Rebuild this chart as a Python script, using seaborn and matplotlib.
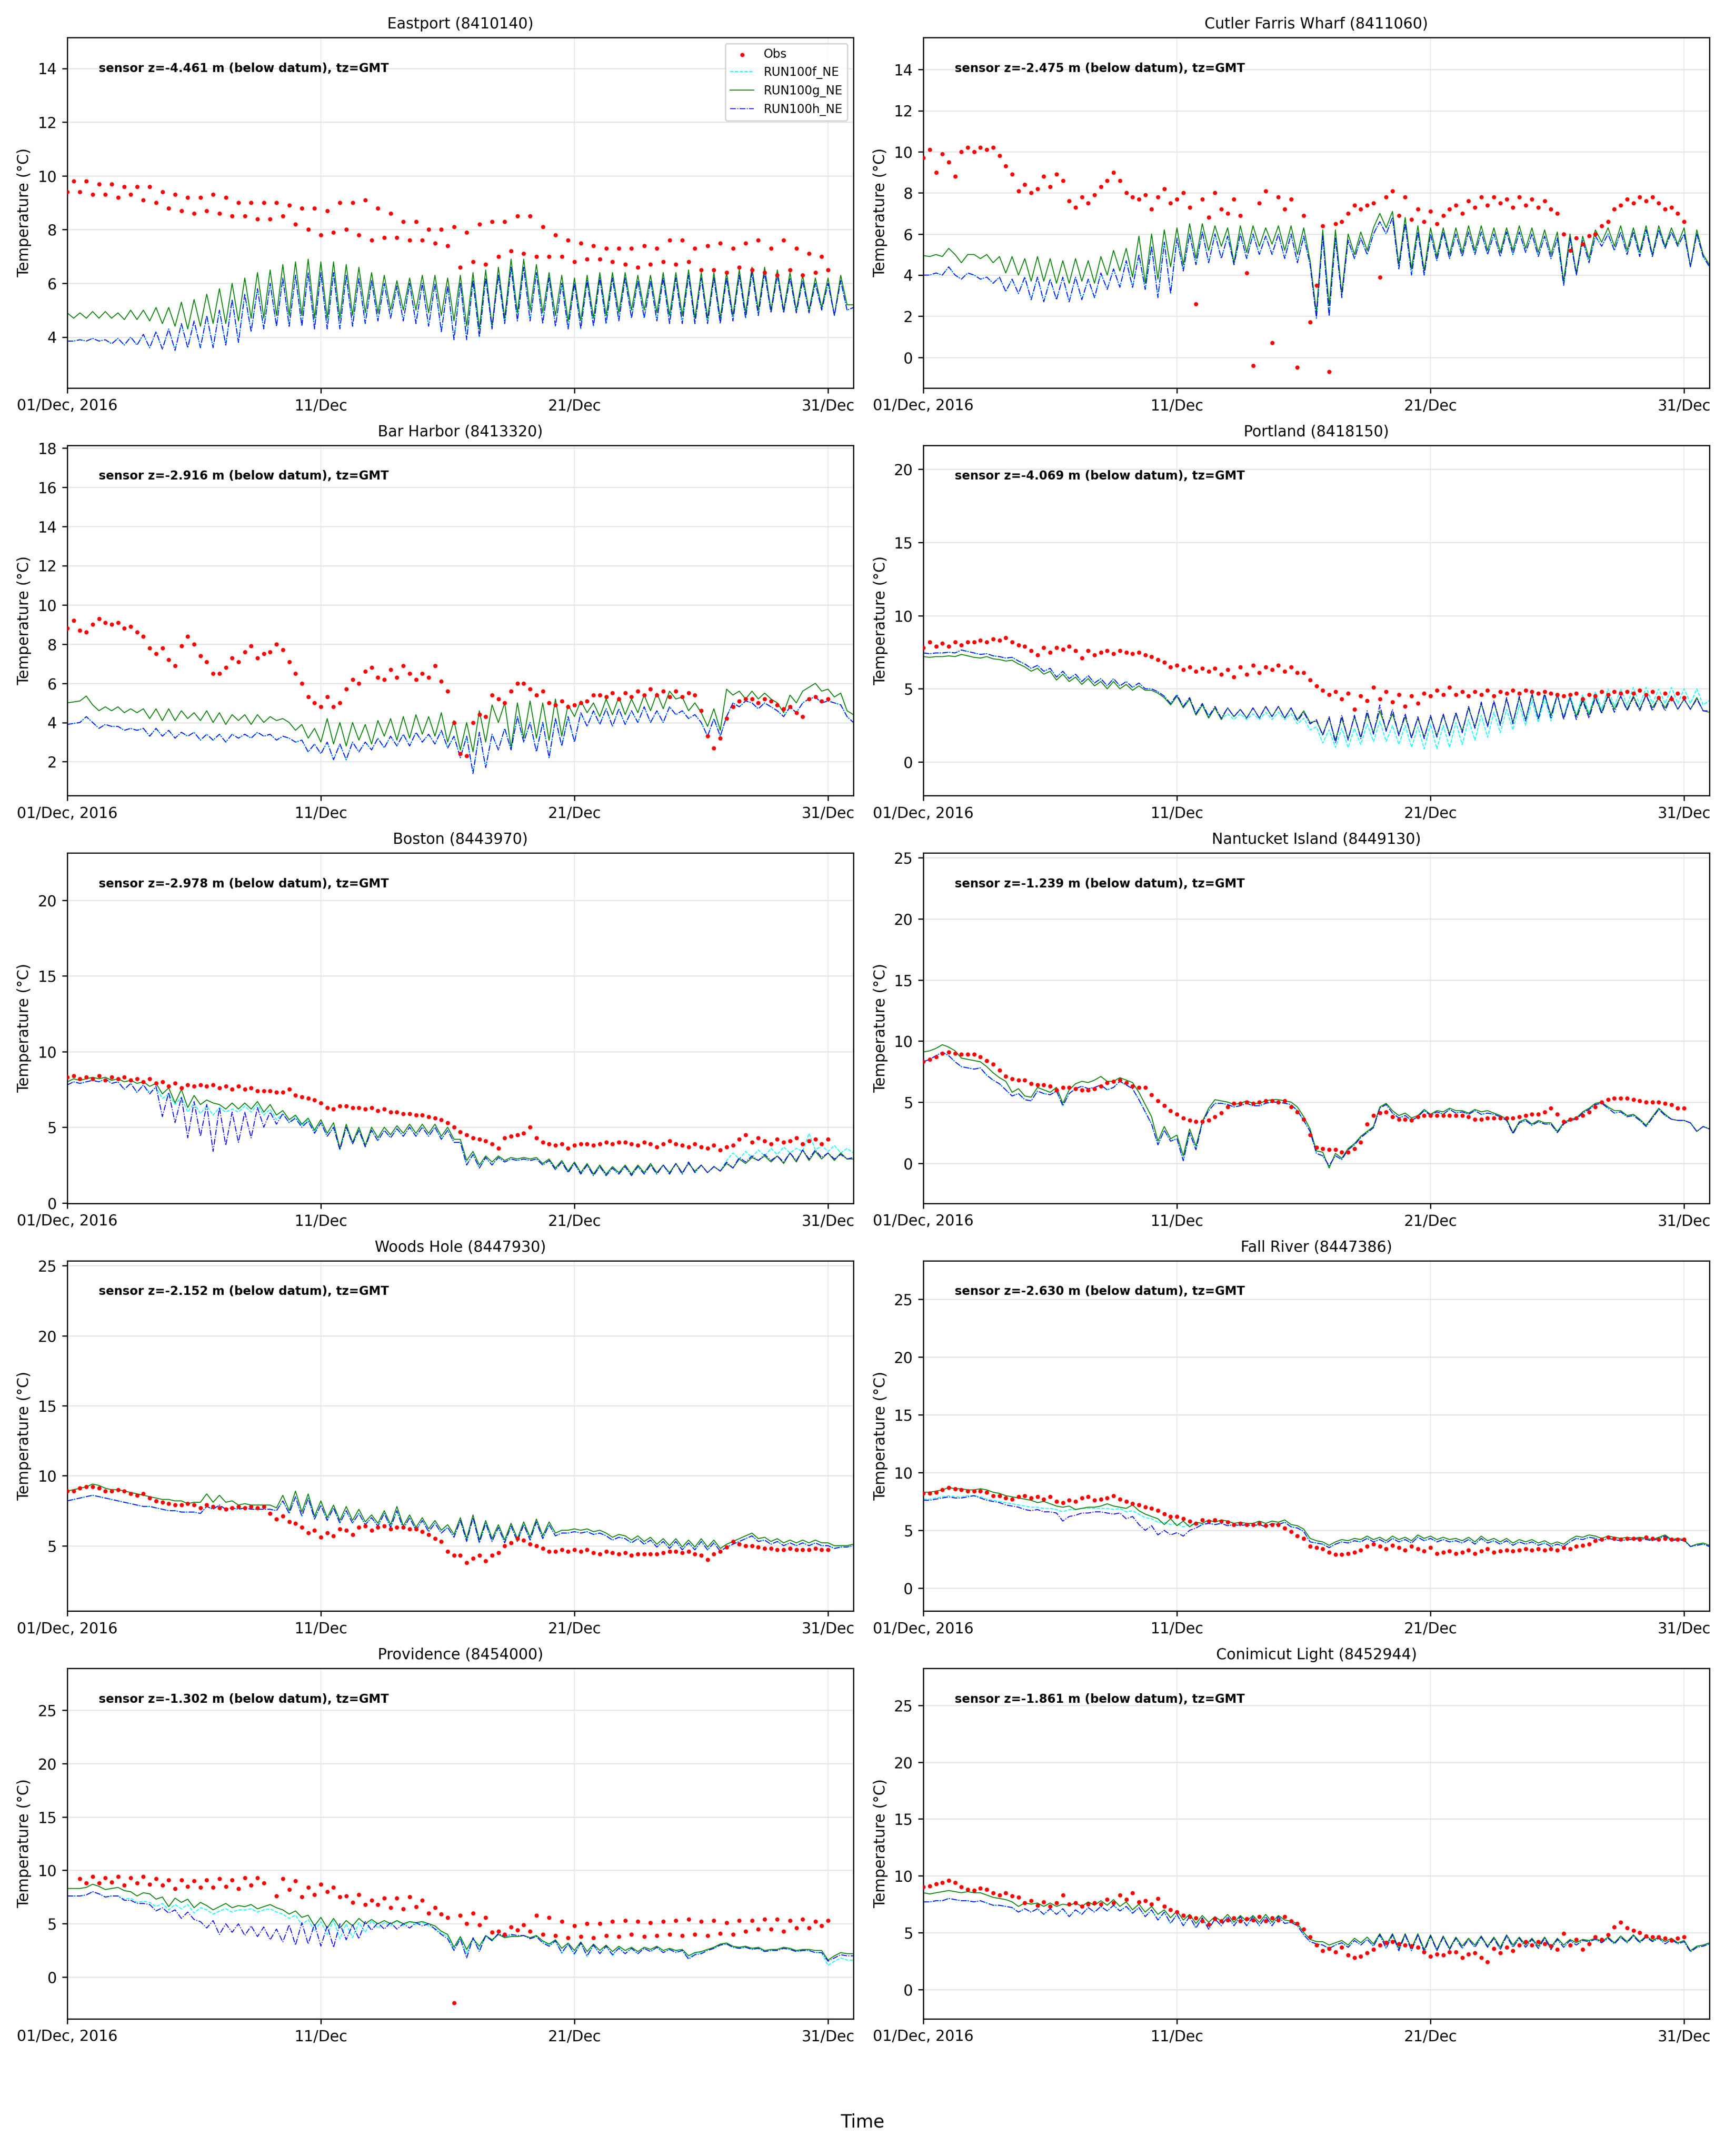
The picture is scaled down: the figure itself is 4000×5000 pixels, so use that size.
import numpy as np
import pandas as pd
import seaborn as sns
import matplotlib.pyplot as plt


def vals(txt):
    return np.array(txt.split(), dtype=float)


# values, 6-hourly (one row = one day: 00, 06, 12, 18 GMT)
# models run 01 Dec 00:00 -> 01 Jan 00:00, obs 01 Dec 00:00 -> 31 Dec 00:00

# ---------------- Eastport ----------------
eastport_obs = vals("""
9.4 9.8 9.4 9.8
9.3 9.7 9.3 9.7
9.2 9.6 9.3 9.6
9.1 9.6 9.0 9.4
8.8 9.3 8.7 9.2
8.6 9.2 8.7 9.3
8.6 9.2 8.5 9.0
8.5 9.0 8.4 9.0
8.4 9.0 8.5 8.9
8.2 8.8 8.0 8.8
7.8 8.7 7.9 9.0
8.0 9.0 7.8 9.1
7.6 8.8 7.7 8.6
7.7 8.3 7.6 8.3
7.6 8.0 7.5 8.0
7.4 8.1 6.6 7.9
6.8 8.2 6.7 8.3
7.0 8.3 7.2 8.5
7.1 8.5 7.0 8.1
7.0 7.8 7.0 7.6
6.8 7.5 6.9 7.4
6.9 7.3 6.8 7.3
6.7 7.3 6.6 7.4
6.7 7.3 6.8 7.6
6.7 7.6 6.8 7.3
6.5 7.4 6.5 7.5
6.4 7.3 6.6 7.5
6.5 7.6 6.4 7.3
6.3 7.6 6.5 7.3
6.3 7.1 6.4 7.0
6.5
""")
eastport_g = vals("""
4.9 4.7 4.9 4.7
4.95 4.7 4.95 4.7
4.9 4.65 5.0 4.65
5.0 4.6 5.1 4.5
5.1 4.4 5.3 4.3
5.4 4.4 5.6 4.5
5.8 4.5 6.0 4.6
6.2 4.7 6.4 4.7
6.5 4.8 6.7 4.8
6.8 4.8 6.9 4.7
6.8 4.7 6.8 4.7
6.7 4.8 6.6 4.9
6.4 4.9 6.3 5.0
6.1 5.0 6.2 5.0
6.3 4.9 6.3 4.8
6.2 4.6 6.3 4.4
6.4 4.3 6.5 4.4
6.6 4.7 6.9 4.9
6.9 5.0 6.7 4.9
6.4 4.8 6.3 4.6
6.2 4.6 6.3 4.7
6.4 4.8 6.4 4.9
6.4 5.0 6.3 5.0
6.3 4.9 6.4 4.8
6.4 4.8 6.5 4.7
6.4 4.7 6.4 4.7
6.4 4.8 6.5 4.9
6.6 5.0 6.6 5.0
6.5 5.0 6.4 5.0
6.3 5.0 6.2 5.1
6.2 4.8 6.3 5.2
5.2
""")
eastport_h = vals("""
3.85 3.85 3.9 3.85
3.95 3.85 3.9 3.75
3.95 3.7 4.0 3.7
4.1 3.6 4.2 3.55
4.3 3.5 4.5 3.6
4.6 3.6 4.8 3.6
5.0 3.7 5.4 3.8
5.6 4.2 5.8 4.3
6.0 4.4 6.2 4.4
6.3 4.4 6.4 4.3
6.4 4.3 6.4 4.3
6.3 4.4 6.2 4.5
6.1 4.6 6.0 4.7
5.9 4.6 6.0 4.5
6.0 4.4 6.0 4.2
5.9 3.9 6.0 3.9
6.1 4.0 6.2 4.3
6.3 4.5 6.6 4.6
6.6 4.6 6.4 4.5
6.2 4.4 6.0 4.3
6.0 4.3 6.1 4.4
6.2 4.5 6.2 4.6
6.2 4.7 6.1 4.7
6.1 4.6 6.2 4.5
6.2 4.5 6.3 4.5
6.2 4.5 6.2 4.5
6.2 4.6 6.3 4.7
6.4 4.8 6.4 4.9
6.3 4.9 6.2 4.9
6.1 4.9 6.0 5.0
6.0 4.8 6.1 5.0
5.1
""")
eastport_f = eastport_h  # f and h overlap within a line width here

# ---------------- Cutler Farris Wharf ----------------
cutler_obs = vals("""
9.7 10.1 9.0 9.9
9.5 8.8 10.0 10.2
10.0 10.2 10.1 10.2
9.8 9.3 8.9 8.1
8.4 8.0 8.2 8.8
8.3 8.9 8.6 7.6
7.3 7.8 7.5 7.9
8.3 8.6 9.0 8.6
8.0 7.8 7.7 7.9
7.2 7.8 8.2 7.5
7.7 8.0 7.3 2.6
7.7 6.8 8.0 7.2
7.0 7.7 6.9 4.1
-0.4 7.5 8.1 0.7
7.8 7.2 7.7 -0.5
6.9 1.7 3.5 6.4
-0.7 6.5 6.6 7.0
7.4 7.2 7.4 7.5
3.9 7.8 8.1 6.9
7.8 6.7 7.2 6.6
7.1 6.5 6.9 7.2
7.4 7.0 7.6 7.3
7.8 7.4 7.8 7.5
7.7 7.3 7.8 7.4
7.7 7.3 7.6 7.2
7.0 6.0 5.2 5.8
5.5 5.9 6.0 6.4
6.6 7.2 7.4 7.7
7.5 7.8 7.6 7.8
7.5 7.2 7.3 7.0
6.6
""")
cutler_g = vals("""
4.95 4.9 5.0 4.9
5.3 5.0 4.6 5.0
5.0 4.8 5.0 4.6
4.9 4.1 4.9 4.0
4.8 3.7 4.9 3.7
4.8 3.6 4.7 3.6
4.8 3.7 4.7 3.6
4.9 4.0 5.2 4.2
5.3 3.9 5.9 3.6
6.0 3.8 6.2 4.4
6.3 4.5 6.5 4.8
6.5 5.2 6.4 5.4
6.3 4.6 6.4 5.1
6.4 5.4 6.3 5.5
6.4 5.2 6.4 5.0
6.3 4.7 2.2 6.2
2.5 6.2 3.1 6.0
5.0 6.1 5.2 6.3
7.0 6.3 7.1 4.5
6.8 4.3 6.4 4.2
6.3 4.9 6.3 5.0
6.3 5.1 6.4 5.2
6.4 5.2 6.3 5.1
6.3 5.2 6.4 5.3
6.3 5.1 6.2 5.0
6.1 3.7 6.0 4.1
5.9 4.8 6.2 5.6
6.3 5.4 6.4 5.2
6.3 5.1 6.4 5.0
6.4 5.4 6.3 5.5
6.3 4.4 6.2 5.0
4.5
""")
cutler_h = vals("""
4.0 4.0 4.1 4.0
4.4 4.0 3.8 4.1
4.0 3.8 3.9 3.6
3.9 3.2 3.8 3.1
3.9 2.8 3.9 2.7
3.8 2.8 3.9 2.7
3.9 2.8 3.8 2.9
4.1 3.3 4.3 3.4
4.7 3.4 5.0 3.3
5.4 2.9 5.6 3.1
5.8 4.2 6.0 4.5
6.1 4.6 6.0 4.8
5.9 4.5 6.0 4.8
6.0 5.0 5.9 5.0
6.0 4.8 6.0 4.6
5.9 4.5 1.9 5.9
2.0 5.8 2.9 5.7
4.8 5.8 5.0 6.0
6.6 6.0 6.8 4.3
6.5 4.0 6.1 4.0
6.0 4.7 6.1 4.8
6.0 4.9 6.1 5.0
6.1 5.0 6.0 4.9
6.1 5.0 6.1 5.1
6.0 4.9 5.9 4.8
5.8 3.5 5.8 4.0
5.7 4.6 5.9 5.4
6.0 5.2 6.1 5.0
6.1 4.9 6.2 4.9
6.2 5.3 6.1 5.4
6.0 4.4 6.0 4.9
4.4
""")
cutler_f = cutler_h

# ---------------- Bar Harbor ----------------
barharbor_obs = vals("""
8.8 9.2 8.7 8.6
9.0 9.3 9.1 9.0
9.1 8.8 8.9 8.6
8.4 7.8 7.5 7.8
7.2 6.9 7.9 8.4
8.0 7.4 7.1 6.5
6.5 6.8 7.3 7.1
7.6 7.9 7.3 7.5
7.6 8.0 7.7 7.1
6.5 6.0 5.3 5.0
4.8 5.3 4.8 5.0
5.7 6.2 6.0 6.6
6.8 6.3 6.2 6.7
6.3 6.9 6.5 6.2
6.5 6.3 6.9 6.1
5.6 4.0 2.4 2.3
4.0 4.4 4.3 5.4
5.2 5.0 5.6 6.0
6.0 5.7 5.4 5.6
5.0 4.9 5.1 4.8
4.9 5.0 5.1 5.4
5.4 5.3 5.5 5.2
5.5 5.3 5.6 5.4
5.7 5.4 5.6 5.3
5.6 5.3 5.5 5.4
4.6 3.3 2.7 3.2
4.2 4.8 5.1 5.2
5.2 5.0 5.2 5.1
4.9 4.7 4.8 4.5
4.3 5.2 5.3 5.1
5.2
""")
barharbor_g = vals("""
5.0 5.05 5.1 5.35
4.9 4.6 4.8 4.6
4.8 4.5 4.7 4.5
4.7 4.2 4.7 4.1
4.7 4.1 4.6 4.2
4.5 4.1 4.6 4.0
4.5 3.9 4.4 4.1
4.4 3.9 4.4 4.0
4.3 4.1 4.2 4.0
3.6 3.9 3.2 3.7
3.0 4.2 2.9 4.0
2.8 4.0 3.1 3.9
2.9 4.1 3.3 4.2
3.1 4.3 3.2 4.4
3.4 4.3 3.3 4.5
3.0 4.1 2.6 4.0
2.5 4.6 3.0 4.9
4.0 5.0 2.7 5.0
3.2 5.1 3.2 5.0
3.1 5.2 3.3 4.9
4.3 5.1 4.5 5.0
4.3 5.2 4.4 5.3
4.4 5.2 4.5 5.4
4.6 5.5 4.7 5.6
5.2 5.3 4.6 5.0
4.5 3.8 4.7 3.6
5.7 5.4 5.6 5.2
5.6 5.2 5.5 5.2
5.0 4.5 5.4 5.0
5.6 5.8 6.0 5.6
5.7 5.3 5.5 4.6
4.4
""")
barharbor_h = vals("""
3.9 3.95 4.0 4.3
4.0 3.7 3.9 3.8
3.8 3.6 3.7 3.6
3.7 3.3 3.7 3.3
3.6 3.2 3.5 3.3
3.5 3.1 3.4 3.1
3.4 3.0 3.4 3.2
3.4 3.2 3.5 3.3
3.4 3.1 3.3 3.2
3.0 3.1 2.5 2.9
2.4 3.0 2.1 2.9
2.1 3.0 2.5 3.0
2.6 3.2 2.7 3.3
2.8 3.4 2.8 3.5
3.0 3.4 2.9 3.6
2.7 3.3 2.2 3.3
1.4 3.5 1.7 3.4
2.6 3.7 2.6 4.3
3.0 4.0 2.5 4.0
2.2 4.2 2.8 4.3
3.0 4.5 3.8 4.6
3.9 4.7 3.8 4.7
3.9 4.6 4.0 4.8
4.0 4.6 4.0 4.8
4.4 4.6 4.2 4.4
4.0 3.3 4.2 3.3
4.3 5.0 4.8 5.1
5.0 4.7 5.0 4.8
4.6 4.3 4.8 4.5
5.0 5.2 5.3 5.0
5.1 5.0 4.9 4.3
4.0
""")
barharbor_f = barharbor_h

# ---------------- Portland ----------------
portland_obs = vals("""
7.8 8.2 7.9 8.1
7.9 8.2 8.0 8.2
8.2 8.3 8.2 8.4
8.3 8.5 8.2 8.0
7.9 7.6 7.3 7.8
7.5 7.8 7.7 7.9
7.6 7.1 7.6 7.3
7.5 7.6 7.4 7.6
7.5 7.4 7.5 7.3
7.2 7.0 6.8 6.5
6.6 6.3 6.5 6.2
6.4 6.2 6.4 6.0
6.3 5.8 6.5 6.0
6.6 6.1 6.5 6.3
6.6 6.2 6.5 6.1
6.1 5.6 5.2 4.9
4.6 4.8 4.3 4.7
3.6 4.5 4.2 5.1
4.3 4.8 4.1 4.6
3.8 4.5 4.0 4.7
4.5 4.9 4.6 5.1
4.6 4.8 4.5 4.8
4.6 4.9 4.5 4.8
4.7 4.9 4.7 4.9
4.8 4.7 4.8 4.7
4.6 4.5 4.6 4.7
4.3 4.6 4.5 4.8
4.6 4.8 4.7 4.8
4.7 4.9 4.6 4.8
4.4 4.7 4.3 4.7
4.4
""")
portland_f = vals("""
7.45 7.4 7.45 7.45
7.5 7.45 7.65 7.55
7.45 7.35 7.4 7.25
7.2 7.1 7.15 6.9
6.7 6.4 6.6 6.2
6.4 5.8 6.2 5.7
6.0 5.5 5.9 5.4
5.7 5.2 5.7 5.2
5.5 5.1 5.4 5.0
5.0 4.8 4.5 4.0
4.6 3.8 4.4 3.3
4.0 3.2 3.7 2.9
3.3 2.9 3.3 2.9
3.3 2.9 3.4 2.9
3.4 2.9 3.3 2.6
3.0 2.2 2.4 1.3
2.2 1.0 2.3 1.0
2.3 1.2 2.6 1.4
2.8 1.4 2.5 1.2
2.5 1.0 2.4 0.9
2.6 0.9 2.5 1.0
2.7 1.2 2.9 1.5
3.2 1.7 3.4 2.0
3.6 2.2 3.9 2.5
4.2 2.7 4.4 2.8
4.6 3.1 4.6 3.2
4.6 3.3 4.8 3.6
5.0 3.8 5.0 3.9
5.1 3.9 5.1 4.0
5.0 4.0 5.1 4.0
5.0 4.0 5.0 3.9
4.2
""")
portland_g = vals("""
7.2 7.15 7.2 7.2
7.25 7.2 7.35 7.25
7.15 7.1 7.2 7.05
7.0 6.9 6.95 6.7
6.5 6.2 6.4 6.0
6.2 5.6 6.0 5.5
5.8 5.3 5.7 5.2
5.5 5.0 5.5 5.0
5.3 4.9 5.2 4.9
4.9 4.7 4.4 3.9
4.5 3.7 4.3 3.2
3.9 3.0 3.7 2.9
3.7 3.1 3.6 3.0
3.7 3.0 3.8 3.1
3.8 3.0 3.7 2.9
3.5 2.7 2.8 1.9
3.0 1.5 3.0 1.6
3.1 1.7 3.3 2.0
3.5 2.2 3.3 1.9
3.1 1.7 3.0 1.7
3.1 1.8 3.2 1.9
3.3 2.1 3.7 2.4
4.0 2.5 4.1 2.6
4.3 2.7 4.4 2.9
4.6 3.0 4.6 3.2
4.6 3.0 4.4 3.1
4.3 3.2 4.5 3.4
4.6 3.6 4.5 3.6
4.5 3.6 4.6 3.7
4.4 3.7 4.5 3.6
4.3 3.6 4.4 3.5
3.4
""")
portland_h = vals("""
7.45 7.4 7.45 7.45
7.5 7.45 7.65 7.55
7.45 7.35 7.4 7.25
7.2 7.1 7.15 6.9
6.7 6.4 6.6 6.2
6.4 5.8 6.2 5.7
6.0 5.5 5.9 5.4
5.7 5.2 5.7 5.2
5.5 5.1 5.4 5.0
5.0 4.8 4.5 4.0
4.6 3.8 4.4 3.3
4.0 3.1 3.8 3.0
3.7 3.1 3.6 3.0
3.7 3.0 3.8 3.1
3.8 3.0 3.7 2.8
3.4 2.6 2.9 1.8
3.1 1.3 3.2 1.5
3.2 1.6 3.5 1.9
3.9 2.1 3.6 1.8
3.3 1.6 3.1 1.6
3.2 1.7 3.3 1.8
3.4 2.0 3.8 2.3
4.1 2.4 4.2 2.5
4.4 2.6 4.5 2.8
4.7 2.9 4.7 3.0
4.6 2.9 4.4 2.9
4.2 3.0 4.4 3.3
4.5 3.4 4.5 3.5
4.4 3.5 4.6 3.5
4.4 3.5 4.5 3.6
4.3 3.6 4.3 3.5
3.5
""")

# ---------------- Boston ----------------
boston_obs = vals("""
8.3 8.4 8.2 8.3
8.2 8.4 8.1 8.3
8.2 8.3 8.1 8.2
8.0 8.2 7.9 8.0
7.7 7.9 7.6 7.8
7.7 7.8 7.7 7.8
7.6 7.7 7.5 7.7
7.5 7.6 7.4 7.4
7.4 7.3 7.3 7.5
7.1 7.0 6.9 6.8
6.6 6.3 6.2 6.4
6.4 6.3 6.3 6.2
6.3 6.1 6.2 6.0
6.0 5.9 5.9 5.8
5.8 5.7 5.6 5.5
5.3 5.0 4.7 4.5
4.3 4.2 4.1 3.9
3.6 4.3 4.4 4.5
4.6 5.0 4.3 4.0
3.9 3.8 3.9 3.6
3.8 3.9 3.9 3.8
3.9 4.0 3.9 4.0
4.0 3.9 3.8 4.0
3.9 3.7 3.9 4.1
3.9 3.8 3.7 3.9
3.7 3.6 3.8 3.5
3.7 3.8 4.2 4.5
4.0 4.3 4.1 3.9
4.2 4.0 4.1 4.3
3.9 4.1 4.2 3.9
4.2
""")
boston_f = vals("""
7.8 8.0 7.9 8.0
8.1 8.0 8.2 7.9
8.0 7.5 7.9 7.3
7.8 7.3 7.6 6.9
7.2 6.5 7.0 6.0
6.6 5.9 6.4 5.8
6.3 6.0 6.2 6.0
6.4 6.0 6.5 5.8
6.2 5.5 5.9 5.3
5.7 5.1 5.5 4.7
5.3 4.4 5.0 3.5
5.0 3.9 4.8 3.7
4.8 4.1 4.8 4.3
4.9 4.4 5.0 4.4
5.0 4.4 5.0 4.2
4.8 4.0 4.0 2.5
3.2 2.3 3.0 2.5
3.0 2.7 2.9 2.8
2.9 2.8 2.9 2.5
2.8 2.2 2.7 2.0
2.6 1.9 2.5 1.8
2.4 1.8 2.3 1.9
2.4 1.8 2.4 1.9
2.5 1.9 2.5 1.9
2.6 1.9 2.7 2.0
2.5 2.0 2.4 2.1
2.8 3.3 2.9 3.4
3.0 3.5 3.1 3.6
3.2 3.7 3.3 3.6
3.4 4.6 3.5 3.8
3.4 3.8 3.3 3.6
3.3
""")
boston_g = vals("""
8.0 8.2 8.1 8.2
8.3 8.2 8.3 8.1
8.2 8.0 8.1 7.9
8.0 7.7 7.9 7.2
7.6 6.6 7.5 6.3
7.1 6.5 6.8 6.6
6.5 6.2 6.6 6.2
6.6 6.2 6.7 6.0
6.5 5.8 6.1 5.5
5.8 5.2 5.6 4.8
5.5 4.6 5.3 3.6
5.2 4.0 5.0 3.8
5.0 4.3 5.0 4.5
5.1 4.6 5.2 4.6
5.2 4.6 5.2 4.4
5.0 4.2 4.2 2.8
3.4 2.5 3.1 2.7
3.1 2.8 3.0 2.9
3.0 2.9 3.0 2.6
2.9 2.3 2.8 2.1
2.7 2.0 2.6 1.9
2.5 1.9 2.4 2.0
2.5 1.9 2.5 2.0
2.6 2.0 2.5 2.0
2.6 2.0 2.6 2.1
2.5 2.0 2.4 2.1
2.6 2.3 2.9 2.6
3.0 2.8 3.1 2.7
3.1 2.6 3.3 2.7
3.5 2.8 3.4 2.9
3.3 2.8 3.3 2.9
2.9
""")
boston_h = vals("""
7.8 8.0 7.9 8.0
8.1 8.0 8.2 7.9
8.0 7.5 7.9 7.3
7.8 7.2 7.7 5.7
7.3 5.3 7.0 4.3
6.7 4.4 6.5 3.4
6.3 3.8 6.0 4.0
6.0 4.3 6.3 5.0
6.0 5.2 5.9 5.3
5.6 5.0 5.4 4.6
5.3 4.4 5.0 3.5
5.0 3.9 4.8 3.7
4.8 4.1 4.8 4.3
4.9 4.4 5.0 4.4
5.0 4.4 5.0 4.2
4.8 4.0 4.0 2.5
3.2 2.3 3.0 2.5
3.0 2.7 2.9 2.8
2.9 2.8 2.9 2.5
2.8 2.2 2.7 2.0
2.6 1.9 2.5 1.8
2.4 1.8 2.3 1.9
2.4 1.8 2.4 1.9
2.5 1.9 2.5 1.9
2.6 1.9 2.7 2.0
2.5 2.0 2.4 2.1
2.7 2.3 3.0 2.7
3.1 2.8 3.2 2.8
3.1 2.7 3.3 2.8
3.5 2.9 3.5 3.0
3.3 2.9 3.2 2.9
3.0
""")

# ---------------- Nantucket Island ----------------
nantucket_obs = vals("""
8.3 8.5 8.7 9.0
9.1 9.0 8.9 8.9
8.9 8.7 8.4 8.1
7.6 7.1 6.9 6.8
6.8 6.5 6.4 6.4
6.3 6.0 6.2 6.2
6.1 6.0 6.0 6.1
6.3 6.6 6.7 6.8
6.6 6.3 6.2 6.2
5.6 5.1 4.7 4.3
4.0 3.7 3.5 3.4
3.4 3.5 3.8 4.1
4.6 4.9 4.9 5.0
4.9 5.0 5.1 5.1
5.0 5.1 4.6 4.2
3.6 2.3 1.3 1.2
1.1 1.1 0.9 0.9
1.2 1.7 3.2 3.9
4.1 4.2 3.8 3.6
3.6 3.5 3.8 3.9
3.9 3.9 3.9 3.9
3.9 3.9 3.8 3.6
3.6 3.7 3.7 3.7
3.7 3.7 3.8 3.9
4.0 4.0 4.2 4.5
4.0 3.4 3.6 3.7
3.9 4.2 4.6 5.0
5.2 5.3 5.3 5.3
5.2 5.1 5.0 5.0
5.0 4.9 4.8 4.5
4.5
""")
nantucket_g = vals("""
9.1 9.2 9.4 9.7
9.5 9.2 8.6 8.5
8.4 8.3 7.9 7.4
7.0 6.7 5.8 6.1
5.5 5.4 6.2 6.0
5.8 6.2 4.9 6.0
6.5 6.7 6.6 6.8
7.1 6.7 6.7 7.0
6.8 6.6 5.8 4.8
3.8 1.8 3.0 2.0
2.3 0.6 2.8 1.4
3.4 4.5 5.2 5.1
5.0 4.8 4.9 5.1
4.9 4.9 5.1 5.2
5.2 5.1 5.0 4.6
3.8 2.8 1.0 0.9
-0.4 0.8 0.4 1.2
1.6 2.2 2.6 3.0
4.6 4.9 4.3 3.9
4.1 3.7 3.9 4.4
4.0 4.3 4.2 4.5
4.3 4.3 4.1 4.4
4.2 4.3 4.1 3.9
3.6 2.5 3.4 3.6
3.2 3.5 3.3 3.3
2.6 3.3 3.6 3.7
4.2 4.5 4.9 5.0
4.6 4.3 4.3 3.9
4.0 3.6 3.1 3.8
4.5 4.0 3.6 3.5
3.5 3.3 2.6 3.0
2.8
""")
nantucket_h = vals("""
8.3 8.5 8.8 9.1
8.8 8.3 7.9 7.8
7.7 7.8 7.2 6.8
6.5 6.0 5.5 5.7
5.2 5.1 5.9 5.7
5.6 5.9 4.7 5.7
6.1 6.3 6.1 6.2
6.4 6.0 6.2 6.7
6.4 6.1 5.2 4.2
3.2 1.5 2.7 1.8
2.0 0.2 2.5 1.1
3.3 4.3 4.9 4.9
4.8 4.6 4.7 4.9
4.7 4.7 4.9 5.0
5.0 4.9 4.8 4.3
3.5 2.6 0.8 0.6
-0.2 0.6 0.3 1.1
1.5 2.1 2.5 2.9
4.5 4.8 4.1 3.7
3.9 3.5 3.8 4.3
3.9 4.2 4.0 4.4
4.1 4.2 4.0 4.3
4.0 4.1 4.0 3.8
3.5 2.4 3.3 3.5
3.1 3.4 3.2 3.2
2.5 3.2 3.5 3.6
4.1 4.4 4.8 4.9
4.5 4.1 4.2 3.8
3.9 3.5 3.0 3.7
4.4 3.9 3.6 3.5
3.5 3.3 2.6 3.0
2.8
""")
nantucket_f = nantucket_h

# ---------------- Woods Hole ----------------
woodshole_obs = vals("""
8.9 8.9 9.1 9.2
9.2 9.1 8.9 8.9
9.0 8.9 8.7 8.6
8.7 8.4 8.2 8.1
8.0 7.9 7.9 8.0
7.9 7.7 7.9 7.8
7.7 7.6 7.7 7.8
7.7 7.8 7.7 7.8
7.3 6.9 7.1 6.7
6.6 6.3 5.9 6.1
5.6 5.9 5.7 6.2
6.1 5.8 6.3 6.4
6.1 6.3 6.4 6.2
6.3 6.3 6.2 6.2
6.0 5.8 5.5 5.3
4.6 4.3 4.3 3.8
4.1 4.3 3.9 4.3
4.5 5.0 5.2 5.5
5.4 5.1 5.0 4.8
4.6 4.6 4.7 4.6
4.7 4.6 4.7 4.5
4.4 4.6 4.5 4.4
4.5 4.3 4.4 4.4
4.4 4.4 4.5 4.6
4.6 4.5 4.6 4.4
4.3 4.0 4.4 4.6
4.9 5.3 5.1 5.0
5.0 4.9 4.8 4.8
4.7 4.7 4.8 4.7
4.7 4.7 4.8 4.7
4.7
""")
woodshole_g = vals("""
8.9 9.0 9.1 9.2
9.4 9.3 9.1 9.0
9.0 8.9 8.8 8.7
8.6 8.5 8.4 8.3
8.3 8.2 8.2 8.0
8.1 8.1 8.7 8.1
8.6 8.1 8.2 7.9
8.0 7.9 7.9 7.9
7.9 7.7 8.6 7.5
8.9 7.4 8.7 7.1
8.2 7.0 7.9 6.8
7.8 6.8 7.6 6.7
7.2 6.6 7.5 6.5
7.8 6.4 7.2 6.3
7.0 6.2 6.8 6.1
6.5 5.8 7.0 5.5
7.2 5.4 6.8 5.5
6.5 5.4 6.6 5.5
6.7 5.6 6.9 5.7
6.7 5.9 6.1 6.1
6.2 6.1 6.2 6.0
6.1 5.9 5.6 5.8
5.7 5.4 5.7 5.3
5.6 5.1 5.5 5.0
5.5 4.9 5.4 4.9
5.5 4.9 5.4 4.8
5.1 5.3 5.5 5.7
5.9 5.5 5.6 5.3
5.5 5.2 5.4 5.2
5.4 5.2 5.4 5.2
5.2 5.0 5.0 5.0
5.1
""")
woodshole_h = vals("""
8.2 8.3 8.4 8.5
8.6 8.5 8.4 8.3
8.2 8.1 8.0 7.9
7.8 7.8 7.7 7.6
7.5 7.5 7.4 7.4
7.4 7.3 7.8 7.6
7.9 7.6 7.7 7.6
7.7 7.6 7.6 7.6
7.6 7.5 8.2 7.3
8.5 7.1 8.4 6.9
7.9 6.8 7.7 6.6
7.5 6.6 7.3 6.5
7.0 6.4 7.3 6.3
7.5 6.2 7.0 6.1
6.8 6.0 6.6 5.9
6.3 5.6 6.8 5.3
7.0 5.2 6.6 5.3
6.3 5.2 6.4 5.3
6.5 5.4 6.7 5.5
6.5 5.7 5.9 5.9
6.0 5.9 6.0 5.8
5.9 5.7 5.4 5.6
5.5 5.2 5.5 5.1
5.4 4.9 5.3 4.8
5.3 4.7 5.2 4.7
5.3 4.7 5.2 4.6
4.9 5.1 5.3 5.5
5.7 5.3 5.4 5.1
5.3 5.0 5.2 5.0
5.2 5.0 5.2 5.0
5.0 4.8 4.9 4.9
5.0
""")
woodshole_f = woodshole_h

# ---------------- Fall River ----------------
fallriver_obs = vals("""
8.2 8.2 8.3 8.5
8.7 8.6 8.5 8.4
8.4 8.4 8.3 8.0
8.0 7.8 7.7 7.9
8.0 7.8 7.9 7.7
7.9 7.5 7.4 7.6
7.5 7.8 7.9 7.6
7.7 7.8 8.0 7.7
7.5 7.3 7.2 7.0
6.9 6.7 6.4 6.2
6.2 6.0 5.8 5.6
5.9 5.8 5.9 5.8
5.7 5.5 5.6 5.5
5.5 5.6 5.4 5.5
5.5 5.2 4.9 4.5
4.3 3.6 3.5 3.4
3.1 2.9 2.9 3.0
3.1 3.3 3.6 3.8
3.6 3.4 3.7 3.5
3.3 3.6 3.4 3.2
3.5 3.0 3.1 3.2
3.0 3.1 3.3 3.0
3.2 3.4 3.1 3.2
3.3 3.2 3.3 3.4
3.3 3.4 3.3 3.4
3.3 3.5 3.4 3.6
3.7 3.8 4.1 4.2
4.4 4.3 4.2 4.3
4.3 4.2 4.4 4.3
4.2 4.3 4.2 4.2
4.2
""")
fallriver_f = vals("""
7.7 7.7 7.8 7.9
8.0 7.9 7.9 8.0
8.0 7.9 7.7 7.6
7.5 7.4 7.3 7.2
7.1 7.0 7.0 6.9
6.9 6.8 6.6 6.8
6.8 6.9 6.9 6.9
6.9 6.9 6.8 6.9
6.6 6.7 6.4 6.1
6.0 5.7 5.7 5.5
5.6 5.3 5.5 5.5
5.5 5.6 5.5 5.6
5.4 5.5 5.4 5.5
5.4 5.5 5.3 5.6
5.5 5.7 5.3 5.2
4.9 4.0 3.9 3.8
3.5 3.8 4.0 3.9
4.1 4.0 4.3 4.0
4.2 3.9 4.3 4.0
4.2 3.9 4.4 4.1
4.3 4.0 4.2 4.0
4.1 3.9 4.2 3.8
4.3 3.9 4.1 3.8
4.1 3.7 4.0 3.8
4.0 3.7 3.9 3.6
3.8 3.6 4.0 4.3
4.2 4.4 4.3 4.1
4.3 4.2 4.1 4.2
4.2 4.3 4.2 4.1
4.3 4.5 4.1 4.2
4.1 3.6 3.7 3.8
3.6
""")
fallriver_g = vals("""
8.3 8.3 8.4 8.5
8.7 8.6 8.6 8.5
8.5 8.6 8.5 8.3
8.2 8.0 7.9 7.8
7.7 7.6 7.4 7.5
7.3 7.1 7.0 7.1
6.8 6.9 7.0 7.0
7.1 7.3 7.1 7.0
6.9 7.2 6.7 6.4
6.2 6.0 5.5 6.0
5.4 5.8 5.3 5.7
5.6 5.9 5.7 5.9
5.8 5.6 5.7 5.6
5.6 5.8 5.6 5.8
5.7 5.9 5.5 5.4
5.1 4.3 4.1 4.0
3.7 4.0 4.2 4.1
4.3 4.2 4.5 4.2
4.4 4.1 4.5 4.2
4.4 4.1 4.6 4.3
4.5 4.2 4.4 4.2
4.3 4.1 4.4 4.0
4.5 4.1 4.3 4.0
4.3 3.9 4.2 4.0
4.2 3.9 4.1 3.8
4.0 3.8 4.2 4.5
4.4 4.6 4.5 4.3
4.5 4.4 4.3 4.4
4.3 4.4 4.3 4.2
4.4 4.6 4.2 4.3
4.2 3.6 3.8 3.9
3.7
""")
fallriver_h = vals("""
7.6 7.6 7.7 7.8
7.9 7.8 7.8 7.9
8.0 7.8 7.6 7.5
7.4 7.2 7.1 7.0
6.8 6.7 6.8 6.6
6.6 6.5 5.8 6.2
6.3 6.5 6.5 6.6
6.6 6.5 6.4 6.5
6.0 6.2 5.5 5.0
5.4 4.6 5.0 4.6
4.8 4.5 5.0 5.2
5.5 5.6 5.5 5.6
5.4 5.5 5.4 5.5
5.4 5.5 5.3 5.6
5.5 5.7 5.3 5.2
4.9 4.0 3.9 3.8
3.5 3.8 4.0 3.9
4.1 4.0 4.3 4.0
4.2 3.9 4.3 4.0
4.2 3.9 4.4 4.1
4.3 4.0 4.2 4.0
4.1 3.9 4.2 3.8
4.3 3.9 4.1 3.8
4.1 3.7 4.0 3.8
4.0 3.7 3.9 3.6
3.8 3.6 4.0 4.3
4.2 4.4 4.3 4.1
4.3 4.2 4.1 4.2
4.2 4.3 4.2 4.1
4.3 4.5 4.1 4.2
4.1 3.6 3.7 3.8
3.6
""")

# ---------------- Providence ----------------
providence_obs = vals("""
nan nan 9.2 8.8
9.4 8.8 9.3 8.9
9.4 8.6 9.3 8.8
9.4 8.7 9.2 8.6
9.1 8.3 9.1 8.5
9.0 8.4 9.1 8.4
9.2 8.5 9.1 8.3
9.3 8.6 9.3 8.8
nan 7.6 9.2 8.2
9.0 7.5 8.4 7.7
8.7 8.0 8.4 7.5
7.6 7.0 7.7 6.8
7.2 6.8 7.4 6.5
7.4 6.4 7.5 6.6
7.2 6.0 6.5 5.9
5.6 -2.4 5.8 5.0
6.0 4.9 5.6 4.2
4.3 4.0 4.7 4.4
4.9 4.3 5.8 4.0
5.6 3.9 5.2 3.7
4.8 3.8 5.0 3.7
5.0 3.9 5.2 3.8
5.3 4.0 5.2 3.8
5.1 3.9 5.2 4.0
5.3 3.9 5.4 4.0
5.2 3.9 5.3 4.1
5.1 4.0 5.3 4.3
5.3 4.5 5.4 4.5
5.4 4.3 5.3 4.6
5.4 4.6 5.2 4.8
5.3
""")
providence_f = vals("""
7.6 7.6 7.6 7.7
8.0 7.8 7.5 7.6
7.6 7.3 7.4 7.0
7.1 7.0 6.6 6.9
6.3 6.8 6.4 6.8
6.0 6.5 6.3 5.9
6.2 6.4 6.1 6.3
6.3 6.4 6.1 6.3
6.4 6.1 5.9 5.5
5.8 4.9 5.4 4.3
5.2 4.0 5.3 3.6
5.0 3.7 5.1 4.2
5.3 4.6 5.1 4.8
5.3 4.8 5.2 4.9
5.1 4.8 4.6 4.1
3.8 2.6 3.7 2.2
3.6 2.6 3.8 3.4
4.0 3.7 3.9 3.8
3.9 3.6 3.8 3.3
3.0 3.4 2.2 3.1
2.1 3.2 1.9 3.0
2.2 2.9 2.0 2.8
2.2 2.7 2.2 2.7
2.4 2.8 2.3 2.6
2.4 2.5 1.8 2.2
2.3 2.6 2.7 3.1
3.1 2.8 2.7 2.8
2.6 2.7 2.4 2.5
2.6 2.7 2.6 2.4
2.5 2.5 2.3 2.3
1.1 1.5 1.8 1.6
1.6
""")
providence_g = vals("""
8.3 8.3 8.3 8.4
8.7 8.5 8.2 8.3
8.4 8.1 8.0 7.6
7.9 7.8 7.3 7.5
6.6 7.4 7.0 7.3
6.5 7.0 6.7 6.3
6.6 6.9 6.5 6.7
6.6 6.8 6.4 6.6
6.8 6.5 6.3 5.9
6.2 5.6 5.8 4.8
5.6 4.6 5.5 4.6
5.3 4.8 5.5 5.0
5.4 5.0 5.3 5.0
5.3 5.0 5.2 5.1
5.2 5.0 4.8 4.3
4.0 2.8 3.8 2.6
3.6 2.9 3.9 3.5
4.0 3.7 3.8 3.8
3.9 3.7 3.9 3.4
3.1 3.5 2.7 3.2
2.5 3.3 2.4 3.1
2.5 3.0 2.4 2.9
2.5 2.8 2.4 2.8
2.6 2.9 2.5 2.7
2.5 2.6 2.0 2.3
2.4 2.6 2.8 3.1
3.2 2.9 2.8 2.9
2.7 2.8 2.5 2.6
2.6 2.8 2.7 2.5
2.6 2.6 2.5 2.5
1.6 2.0 2.3 2.2
2.2
""")
providence_h = vals("""
7.6 7.6 7.6 7.7
8.0 7.8 7.5 7.6
7.6 7.2 7.2 6.9
6.9 6.8 6.2 6.5
6.0 6.3 5.5 6.1
5.4 5.2 4.6 5.3
4.0 5.0 4.2 5.0
3.9 4.8 3.8 4.7
3.5 4.5 3.3 4.9
3.0 5.1 3.1 5.0
2.9 4.8 2.8 5.0
3.5 4.9 3.6 5.2
4.4 5.1 4.5 5.1
4.5 5.0 4.6 5.1
4.8 5.0 4.5 4.0
3.6 2.5 3.6 1.8
3.7 2.4 3.9 3.4
4.1 3.8 4.0 3.9
3.9 3.6 3.8 3.2
2.9 3.4 2.3 3.1
2.2 3.2 2.0 3.0
2.2 2.9 2.1 2.7
2.2 2.7 2.2 2.7
2.4 2.8 2.3 2.6
2.3 2.5 1.7 2.1
2.2 2.5 2.7 3.0
3.1 2.8 2.7 2.8
2.6 2.7 2.4 2.5
2.5 2.7 2.6 2.4
2.5 2.5 2.3 2.3
1.5 1.8 2.1 2.0
2.0
""")

# ---------------- Conimicut Light ----------------
conimicut_obs = vals("""
9.0 9.1 9.3 9.4
9.6 9.4 9.0 8.8
8.7 8.9 8.8 8.5
8.3 8.5 8.2 8.1
7.6 7.8 7.4 7.7
7.3 7.6 8.3 7.5
7.6 7.3 7.5 7.6
7.5 7.9 7.6 8.3
7.9 8.5 7.7 7.8
7.5 8.0 7.3 7.0
6.8 6.5 6.4 6.3
6.0 5.7 6.2 6.0
6.1 6.3 6.0 6.2
6.1 6.4 6.0 6.3
6.1 6.4 6.0 5.8
5.3 4.6 3.9 3.4
3.6 3.3 3.7 3.0
2.8 2.9 3.2 3.5
3.9 4.1 4.2 4.0
3.9 3.8 3.7 3.3
2.9 3.1 3.0 3.3
3.3 2.8 3.1 3.2
2.8 2.4 3.6 3.2
3.7 3.4 3.9 4.2
3.9 4.2 4.0 3.8
3.5 4.9 3.9 4.4
3.5 4.0 4.6 4.4
4.8 5.5 5.9 5.4
5.2 5.0 4.7 4.6
4.6 4.5 4.3 4.5
4.6
""")
conimicut_g = vals("""
8.5 8.4 8.5 8.6
8.7 8.6 8.5 8.6
8.5 8.5 8.3 8.1
8.0 7.9 7.7 7.3
7.6 7.5 7.6 7.3
7.6 7.3 7.5 7.4
7.6 7.3 7.7 7.4
7.8 7.4 7.9 7.3
7.7 7.0 7.5 6.8
7.3 6.6 7.0 6.3
6.9 6.1 6.6 5.8
6.5 5.9 6.4 6.0
6.6 5.9 6.5 6.0
6.5 5.9 6.6 5.9
6.5 6.1 6.0 5.8
5.0 4.4 4.2 4.2
3.9 4.1 4.3 3.9
4.5 4.1 4.6 4.0
4.9 3.9 4.9 3.6
4.9 3.6 4.9 3.5
4.8 3.5 4.7 3.6
4.6 3.8 4.5 3.9
4.7 3.8 4.6 3.7
4.8 3.9 4.6 3.9
4.5 3.8 4.6 3.7
4.5 3.9 4.4 4.1
4.4 4.3 4.5 4.2
4.6 4.1 4.7 4.2
4.8 4.2 4.7 4.3
4.6 4.2 4.5 4.1
4.3 3.4 3.8 3.9
4.1
""")
conimicut_h = vals("""
7.7 7.7 7.8 7.8
8.0 7.9 7.8 7.8
7.7 7.8 7.6 7.4
7.4 7.3 7.2 6.8
7.1 6.8 7.1 6.6
7.1 6.6 7.1 6.4
7.0 6.6 7.2 6.8
7.3 6.9 7.4 6.9
7.3 6.7 7.2 6.4
7.0 6.1 6.8 5.8
6.6 5.6 6.4 5.4
6.3 5.3 6.2 5.6
6.4 5.6 6.4 5.6
6.4 5.6 6.4 5.6
6.4 5.8 5.9 5.6
4.8 4.2 4.0 3.9
3.6 3.9 4.1 3.7
4.3 3.9 4.4 3.8
4.8 3.6 4.8 3.4
4.8 3.4 4.8 3.3
4.7 3.4 4.6 3.5
4.5 3.6 4.4 3.7
4.6 3.7 4.5 3.5
4.7 3.7 4.5 3.7
4.4 3.6 4.5 3.5
4.4 3.7 4.3 3.9
4.3 4.2 4.4 4.1
4.5 4.0 4.6 4.1
4.7 4.1 4.6 4.2
4.5 4.0 4.4 4.0
4.2 3.3 3.7 3.8
4.0
""")
conimicut_f = conimicut_h

# ---------------- panel meta ----------------
stations = ['Eastport (8410140)', 'Cutler Farris Wharf (8411060)',
            'Bar Harbor (8413320)', 'Portland (8418150)',
            'Boston (8443970)', 'Nantucket Island (8449130)',
            'Woods Hole (8447930)', 'Fall River (8447386)',
            'Providence (8454000)', 'Conimicut Light (8452944)']
sensor_z = ['-4.461', '-2.475', '-2.916', '-4.069', '-2.978',
            '-1.239', '-2.152', '-2.630', '-1.302', '-1.861']
obs_list = [eastport_obs, cutler_obs, barharbor_obs, portland_obs, boston_obs,
            nantucket_obs, woodshole_obs, fallriver_obs, providence_obs, conimicut_obs]
f_list = [eastport_f, cutler_f, barharbor_f, portland_f, boston_f,
          nantucket_f, woodshole_f, fallriver_f, providence_f, conimicut_f]
g_list = [eastport_g, cutler_g, barharbor_g, portland_g, boston_g,
          nantucket_g, woodshole_g, fallriver_g, providence_g, conimicut_g]
h_list = [eastport_h, cutler_h, barharbor_h, portland_h, boston_h,
          nantucket_h, woodshole_h, fallriver_h, providence_h, conimicut_h]
ylims = [(2.1, 15.15), (-1.5, 15.56), (0.26, 18.15), (-2.3, 21.63), (-0.04, 23.13),
         (-3.3, 25.4), (0.32, 25.36), (-2.0, 28.35), (-3.9, 28.9), (-2.6, 28.26)]
tick_dates = pd.to_datetime(['2016-12-01', '2016-12-11', '2016-12-21', '2016-12-31'])
tick_labels = ['01/Dec, 2016', '11/Dec', '21/Dec', '31/Dec']

fig, axes = plt.subplots(5, 2, figsize=(16, 20))
fig.subplots_adjust(left=0.039, right=0.991, bottom=0.0636, top=0.9826,
                    wspace=0.089, hspace=0.163)

for i, ax in enumerate(axes.flat):
    obs = obs_list[i]
    t_obs = pd.date_range('2016-12-01', '2016-12-31', periods=len(obs))
    sns.scatterplot(x=t_obs, y=obs, ax=ax, color='red', marker='o', s=8,
                    linewidth=0, label='Obs', zorder=3)
    for arr, col, ls, lab in [(f_list[i], 'cyan', '--', 'RUN100f_NE'),
                              (g_list[i], 'green', '-', 'RUN100g_NE'),
                              (h_list[i], 'blue', '-.', 'RUN100h_NE')]:
        t_mod = pd.date_range('2016-12-01', '2017-01-01', periods=len(arr))
        sns.lineplot(x=t_mod, y=arr, ax=ax, color=col, linestyle=ls,
                     linewidth=0.6, label=lab, estimator=None)

    ax.set_xlim(pd.Timestamp('2016-12-01'), pd.Timestamp('2017-01-01'))
    ax.set_ylim(*ylims[i])
    ax.set_xticks(tick_dates)
    ax.set_xticklabels(tick_labels)
    ax.set_title(stations[i], fontsize=10)
    ax.set_ylabel('Temperature (°C)', fontsize=10)
    ax.set_xlabel('')
    ax.grid(True, axis='y', color='#e6e6e6', linewidth=0.8)
    ax.grid(True, axis='x', color='#e6e6e6', linewidth=0.5)
    ax.set_axisbelow(True)
    ax.text(0.04, 0.912, f'sensor z={sensor_z[i]} m (below datum), tz=GMT',
            transform=ax.transAxes, fontsize=8, fontweight='bold', va='center')
    if i == 0:
        ax.legend(loc='upper right', fontsize=8)
    elif ax.get_legend() is not None:
        ax.get_legend().remove()

fig.supxlabel('Time', y=0.0115, fontsize=12)
fig.savefig('out.png', dpi=250)
